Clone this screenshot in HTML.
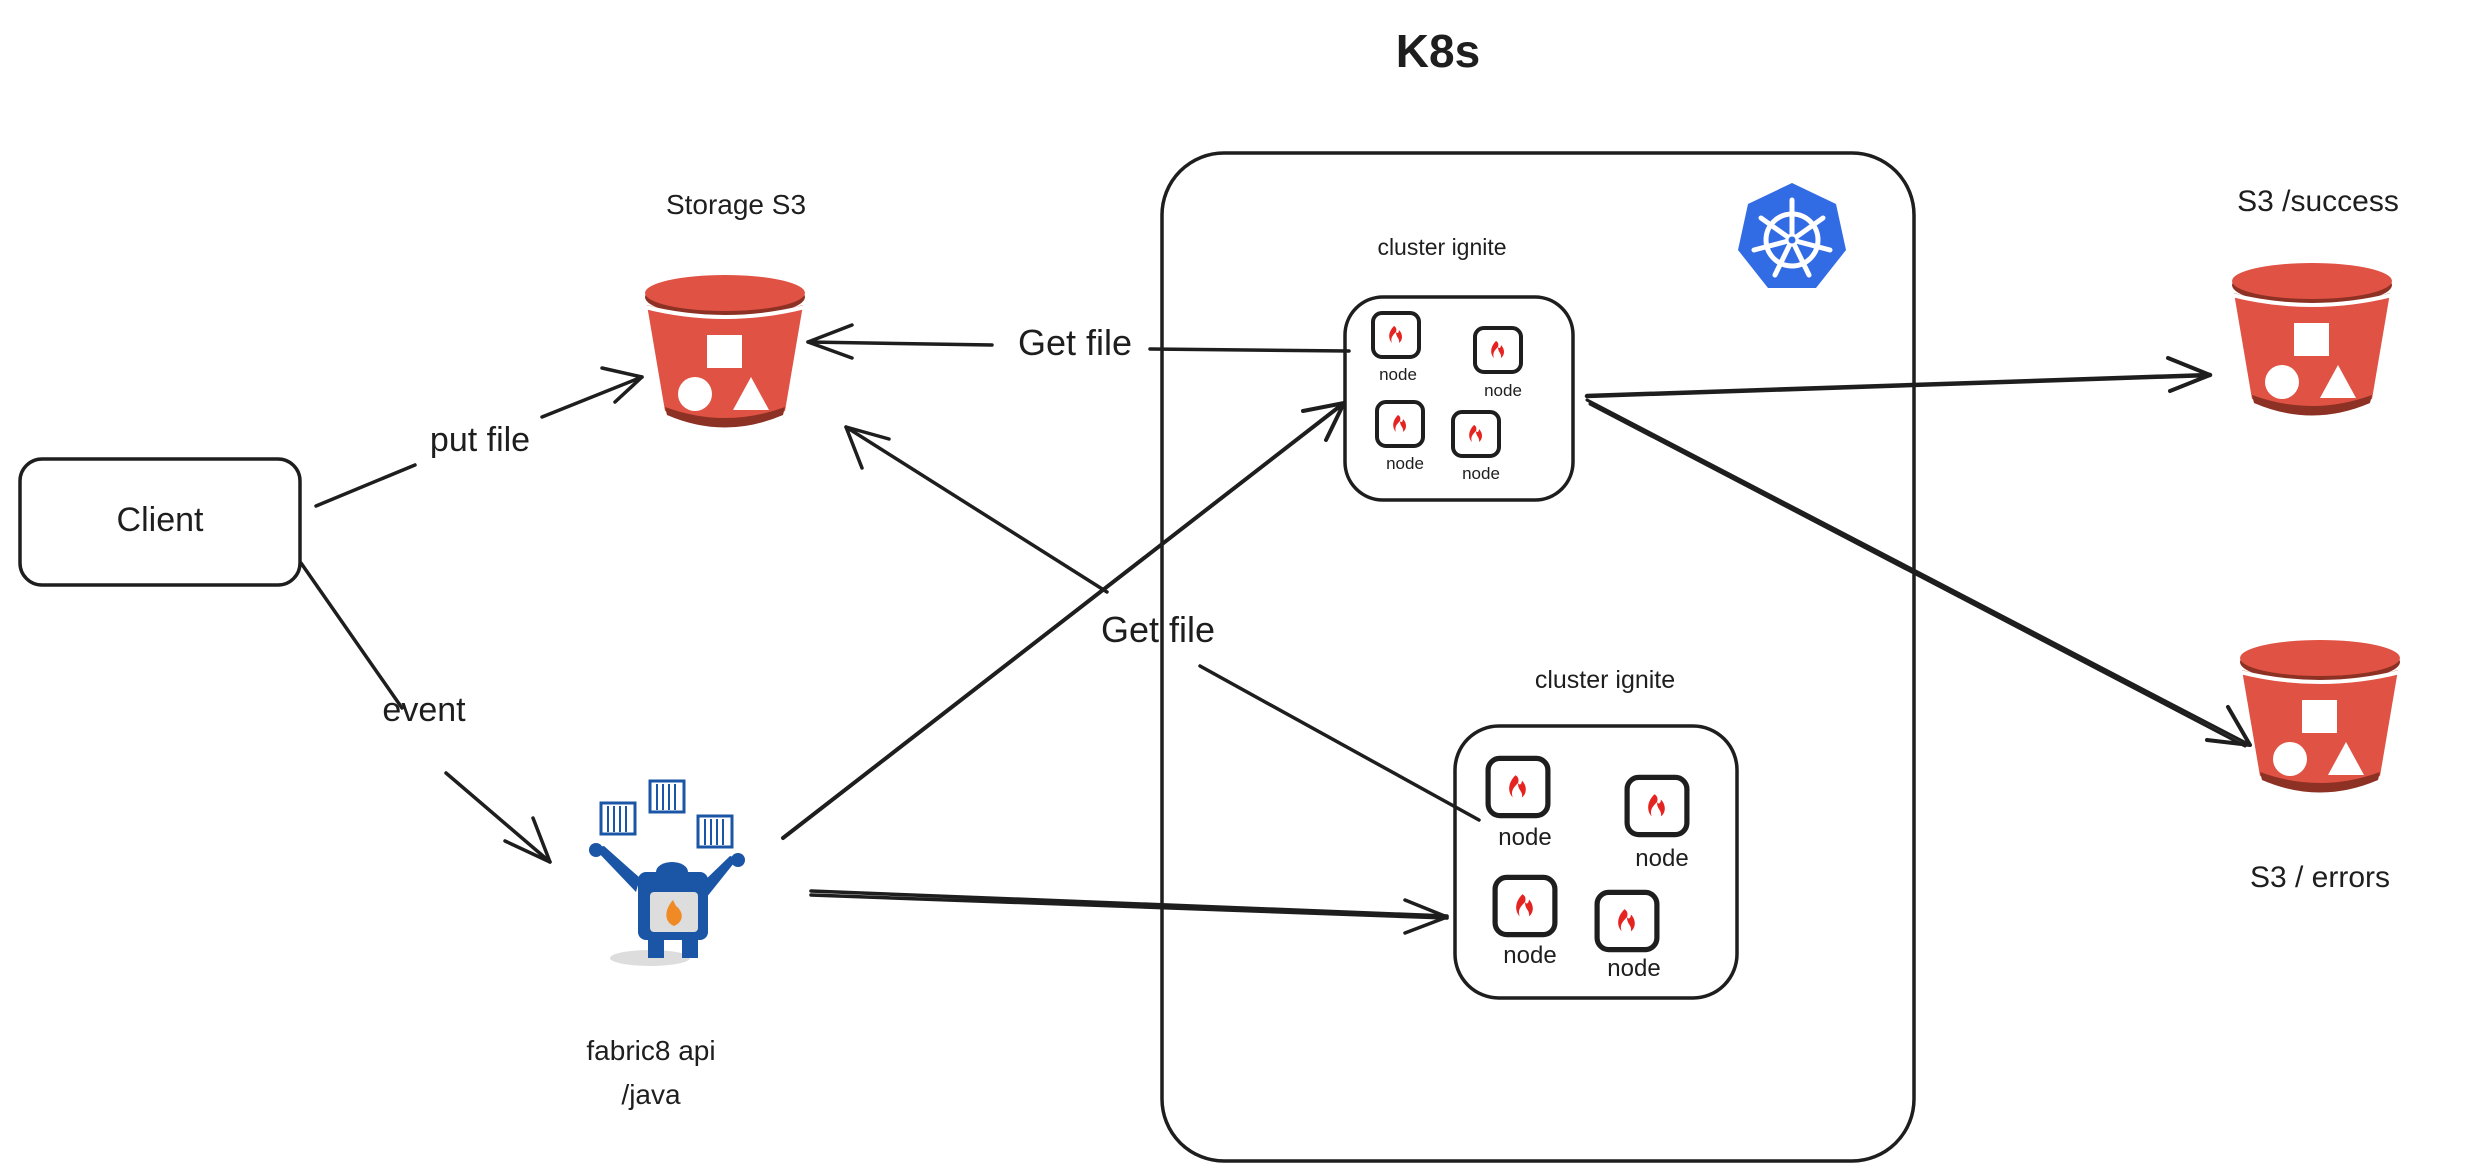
<!DOCTYPE html>
<html><head><meta charset="utf-8"><style>
html,body{margin:0;padding:0;background:#fff;}
svg{display:block}
text{font-family:"Liberation Sans",sans-serif;fill:#1e1e1e}
</style></head><body>
<svg width="2467" height="1175" viewBox="0 0 2467 1175" xmlns="http://www.w3.org/2000/svg">
<defs>
<g id="bucket">
  <path d="M2,30 L20,136 Q80,158 140,136 L158,30 Q80,52 2,30 Z" fill="#e05243"/>
  <path d="M20,132 Q80,154 140,132 L138,140 Q80,165 22,140 Z" fill="#8c3123"/>
  <ellipse cx="80" cy="22" rx="80" ry="20" fill="#8c3123"/>
  <ellipse cx="80" cy="18" rx="80" ry="18" fill="#e05243"/>
  <path d="M0,32 Q80,52 160,32" stroke="#fff" stroke-width="4" fill="none"/>
  <rect x="62" y="60" width="35" height="33" fill="#fff"/>
  <circle cx="50" cy="119" r="17" fill="#fff"/>
  <polygon points="88,135 106,102 124,135" fill="#fff"/>
</g>
<g id="node">
  <rect x="-23" y="-22" width="46" height="44" rx="9" fill="#fff" stroke="#1e1e1e" stroke-width="4"/>
  <path d="M-2,-9 C-8,-3 -8,4 -4,8 C-6,3 -3,0 0,-3 C0,3 4,3 3,8 C7,5 7,-1 3,-5 C3,-2 1,-1 0,-3 C1,-6 0,-8 -2,-9 Z" fill="#e52421"/>
</g>
</defs>
<g stroke="#1e1e1e" stroke-width="3.5" fill="none" stroke-linecap="round" stroke-linejoin="round">
  <!-- K8s box -->
  <rect x="1162" y="153" width="752" height="1008" rx="62"/>
  <!-- client -->
  <rect x="20" y="459" width="280" height="126" rx="22"/>
  <!-- cluster 1 -->
  <rect x="1345" y="297" width="228" height="203" rx="38"/>
  <!-- cluster 2 -->
  <rect x="1455" y="726" width="282" height="272" rx="44"/>
  <!-- put file -->
  <path d="M316,506 L415,465 M542,417 L642,377"/>
  <path d="M602,368 L642,377 L615,402"/>
  <!-- event -->
  <path d="M301,563 L402,708 M446,773 L550,862"/>
  <path d="M505,841 L550,862 L533,818"/>
  <!-- Get file top -->
  <path d="M1349,351 L1150,349 M992,345 L808,342"/>
  <path d="M852,325 L808,342 L852,358"/>
  <!-- Get file mid: cluster2 node to S3 -->
  <path d="M1479,820 L1200,666 M1107,592 L846,427"/>
  <path d="M862,468 L846,427 L889,439"/>
  <!-- fabric8 to cluster1 -->
  <path d="M783,838 L1344,403" stroke-width="4"/>
  <path d="M1303,411 L1344,403 L1326,440" stroke-width="4"/>
  <!-- fabric8 to cluster2 -->
  <path d="M811,891 L1447,916 M811,895 L1447,918"/>
  <path d="M1405,900 L1447,917 L1405,933"/>
  <!-- cluster1 to success -->
  <path d="M1587,396 L2210,375" stroke-width="4.5"/>
  <path d="M2168,358 L2210,375 L2170,391" stroke-width="4"/>
  <!-- cluster1 to errors -->
  <path d="M1587,400 L2250,745 M1590,404 L2245,746" stroke-width="3"/>
  <path d="M2228,707 L2250,745 L2207,740" stroke-width="4"/>
</g>
<!-- buckets -->
<use href="#bucket" x="645" y="275"/>
<use href="#bucket" x="2232" y="263"/>
<use href="#bucket" x="2240" y="640"/>
<!-- nodes cluster1 (scaled) -->
<use href="#node" x="1396" y="335"/>
<use href="#node" x="1498" y="350"/>
<use href="#node" x="1400" y="424"/>
<use href="#node" x="1476" y="434"/>
<!-- nodes cluster2 -->
<g transform="translate(1518,787) scale(1.3)"><use href="#node"/></g>
<g transform="translate(1657,806) scale(1.3)"><use href="#node"/></g>
<g transform="translate(1525,906) scale(1.3)"><use href="#node"/></g>
<g transform="translate(1627,921) scale(1.3)"><use href="#node"/></g>
<!-- k8s logo -->
<g transform="translate(1792,238)">
  <polygon points="0,-55 44,-34 54,12 24,50 -24,50 -54,12 -44,-34" fill="#326ce5"/>
  <g stroke="#fff" stroke-width="5" fill="none" stroke-linecap="round">
    <circle cx="0" cy="2" r="26"/>
    <path d="M0,2 L0,-38 M0,2 L31,-20 M0,2 L38,12 M0,2 L17,37 M0,2 L-17,37 M0,2 L-38,12 M0,2 L-31,-20"/>
  </g>
  <circle cx="0" cy="2" r="5" fill="#326ce5" stroke="#fff" stroke-width="3"/>
</g>
<!-- fabric8 mascot -->
<g>
  <g fill="#fff" stroke="#1a56a5" stroke-width="3">
    <rect x="601" y="803" width="34" height="31"/>
    <rect x="650" y="781" width="34" height="31"/>
    <rect x="698" y="816" width="34" height="31"/>
  </g>
  <g stroke="#1a56a5" stroke-width="2">
    <path d="M608,806v26M614,806v26M620,806v26M626,806v26M657,784v26M663,784v26M669,784v26M675,784v26M705,819v26M711,819v26M717,819v26M723,819v26"/>
  </g>
  <ellipse cx="650" cy="958" rx="40" ry="8" fill="#ddd"/>
  <path d="M594,848 L604,846 L640,878 L636,892 Z" fill="#1a56a5"/>
  <path d="M738,858 L730,856 L700,885 L706,898 Z" fill="#1a56a5"/>
  <circle cx="596" cy="850" r="7" fill="#1a56a5"/>
  <circle cx="738" cy="860" r="7" fill="#1a56a5"/>
  <ellipse cx="672" cy="872" rx="16" ry="10" fill="#1a56a5"/>
  <rect x="638" y="872" width="70" height="68" rx="8" fill="#1a56a5"/>
  <rect x="650" y="892" width="48" height="40" rx="4" fill="#ddd"/>
  <path d="M673,900 C664,910 664,922 674,926 C684,922 684,912 676,906 Z" fill="#f08a24"/>
  <rect x="648" y="936" width="16" height="22" fill="#1a56a5"/>
  <rect x="682" y="936" width="16" height="22" fill="#1a56a5"/>
</g>
<!-- text -->
<text x="1438" y="67" font-size="46" font-weight="bold" text-anchor="middle">K8s</text>
<text x="736" y="214" font-size="28" text-anchor="middle">Storage S3</text>
<text x="160" y="531" font-size="34" text-anchor="middle">Client</text>
<text x="480" y="451" font-size="34" text-anchor="middle">put file</text>
<text x="424" y="721" font-size="34" text-anchor="middle">event</text>
<text x="1075" y="355" font-size="36" text-anchor="middle">Get file</text>
<text x="1158" y="642" font-size="36" text-anchor="middle">Get file</text>
<text x="1442" y="255" font-size="23" text-anchor="middle">cluster ignite</text>
<text x="1605" y="688" font-size="25" text-anchor="middle">cluster ignite</text>
<text x="2318" y="211" font-size="30" text-anchor="middle">S3 /success</text>
<text x="2320" y="887" font-size="30" text-anchor="middle">S3 / errors</text>
<text x="651" y="1060" font-size="28" text-anchor="middle">fabric8 api</text>
<text x="651" y="1104" font-size="28" text-anchor="middle">/java</text>
<g font-size="17" text-anchor="middle">
<text x="1398" y="380">node</text>
<text x="1503" y="396">node</text>
<text x="1405" y="469">node</text>
<text x="1481" y="479">node</text>
</g>
<g font-size="24" text-anchor="middle">
<text x="1525" y="845">node</text>
<text x="1662" y="866">node</text>
<text x="1530" y="963">node</text>
<text x="1634" y="976">node</text>
</g>
</svg>
</body></html>
